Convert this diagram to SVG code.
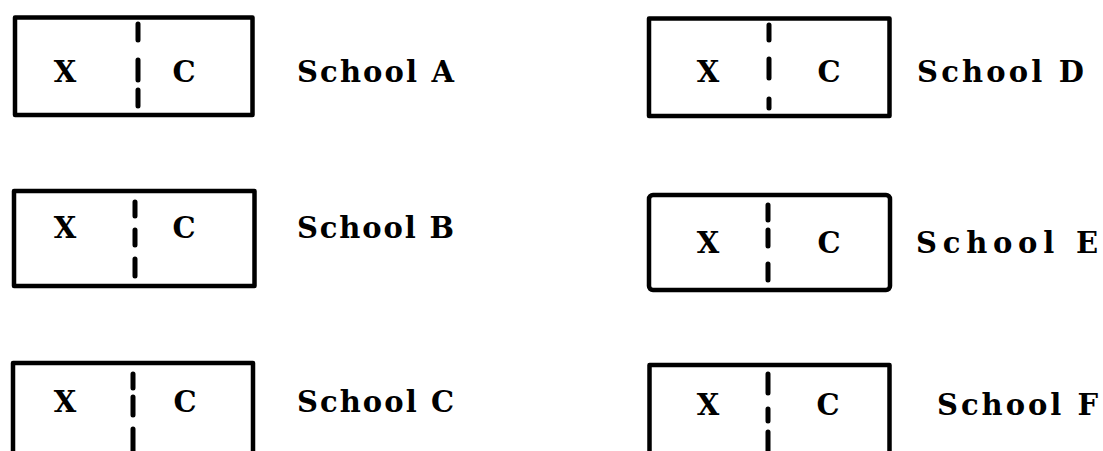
<svg xmlns="http://www.w3.org/2000/svg" width="1103" height="451" viewBox="0 0 1103 451">
<style>
.box{fill:none;stroke:#000;stroke-width:4.5;stroke-linejoin:round}
.div{stroke:#000;stroke-width:5;stroke-linecap:round}
.t{font-family:"DejaVu Serif","Liberation Serif",serif;font-weight:bold;font-size:29px;fill:#000}
.m{text-anchor:middle}
</style>
<rect width="1103" height="451" fill="#fff"/>
<g id="schoolA">
<rect class="box" x="15" y="17.5" width="237.5" height="97.5"/>
<path class="div" d="M138 24V40M138 60V80M138 90V106"/>
<text class="t m" x="65" y="82">X</text>
<text class="t m" x="184" y="82">C</text>
<text class="t" x="297" y="82" textLength="157" lengthAdjust="spacing">School A</text>
</g>
<g id="schoolB">
<rect class="box" x="14" y="191" width="240.5" height="95"/>
<path class="div" d="M135 202V216M135 230V245M135 259V276"/>
<text class="t m" x="65" y="238">X</text>
<text class="t m" x="184" y="238">C</text>
<text class="t" x="297" y="238" textLength="157" lengthAdjust="spacing">School B</text>
</g>
<g id="schoolC">
<path class="box" d="M13 460V363H253V460"/>
<path class="div" d="M133 374V388M133 397V415M133 429V460"/>
<text class="t m" x="65" y="412">X</text>
<text class="t m" x="185" y="412">C</text>
<text class="t" x="297" y="412" textLength="157" lengthAdjust="spacing">School C</text>
</g>
<g id="schoolD">
<rect class="box" x="649" y="18.5" width="240.5" height="97.5"/>
<path class="div" d="M769 25V40M769 59V78M769 99V108"/>
<text class="t m" x="708" y="82">X</text>
<text class="t m" x="829" y="82">C</text>
<text class="t" x="917" y="82" textLength="167" lengthAdjust="spacing">School D</text>
</g>
<g id="schoolE">
<rect class="box" x="649" y="195" width="241" height="95" rx="4"/>
<path class="div" d="M768 205V220M768 230V246M768 264V280"/>
<text class="t m" x="708" y="253">X</text>
<text class="t m" x="829" y="253">C</text>
<text class="t" x="916" y="253" textLength="182" lengthAdjust="spacing">School E</text>
</g>
<g id="schoolF">
<path class="box" d="M649.5 460V365H889.5V460"/>
<path class="div" d="M768 374V393M768 409V421M768 432V460"/>
<text class="t m" x="708" y="415">X</text>
<text class="t m" x="828" y="415">C</text>
<text class="t" x="937" y="415" textLength="161" lengthAdjust="spacing">School F</text>
</g>
<g id="connectors"/>
</svg>
